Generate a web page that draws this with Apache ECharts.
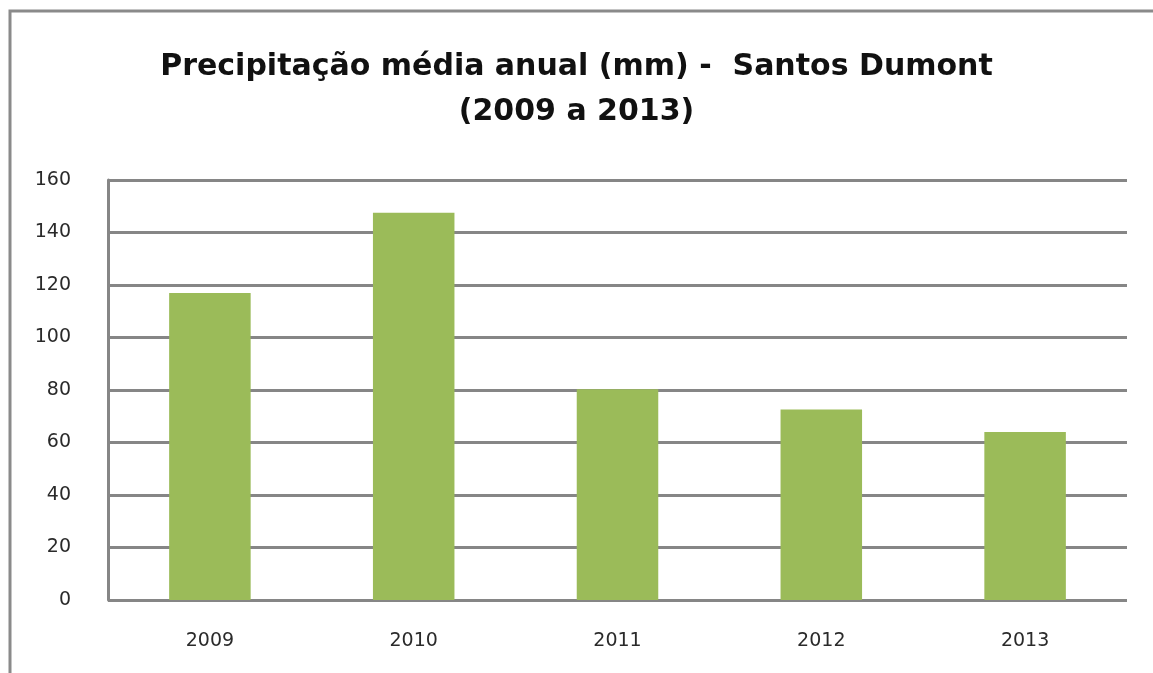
<!DOCTYPE html>
<html>
<head>
<meta charset="utf-8">
<script src="https://cdn.jsdelivr.net/npm/echarts@6/dist/echarts.min.js"></script>
<style>
  html, body { margin: 0; padding: 0; background: #fff; }
  #chart { width: 1153px; height: 673px; }
</style>
</head>
<body>
<div id="chart"></div>
<script>
const years = ["2009", "2010", "2011", "2012", "2013"];
const rainfall = [117, 147.5, 80.3, 72.6, 64];
const titleLines = ["Precipitação média anual (mm) -  Santos Dumont", "(2009 a 2013)"];

const FONT = '"DejaVu Sans", sans-serif';
const LABEL_FONT = '"DejaVu Sans", sans-serif';

const chart = echarts.init(document.getElementById("chart"), null, { renderer: "canvas" });

chart.setOption({
  backgroundColor: "#fff",
  animation: false,
  title: {
    text: titleLines.join("\n"),
    left: "center",
    top: 40,
    textStyle: {
      fontFamily: FONT,
      fontWeight: "bold",
      fontSize: 30,
      lineHeight: 45,
      color: "#111",
    },
  },
  // chart frame, spills past right and bottom edges like the screenshot
  graphic: [
    {
      type: "rect",
      shape: { x: 10, y: 11, width: 1200, height: 700 },
      style: { fill: null, stroke: "#8a8a8a", lineWidth: 3 },
      silent: true,
    },
  ],
  grid: { left: 108, right: 26, top: 180, bottom: 73 },
  xAxis: {
    type: "category",
    data: years,
    axisLine: { show: false },
    axisTick: { show: false },
    axisLabel: {
      color: "#2a2a2a",
      fontFamily: LABEL_FONT,
      fontSize: 19,
      margin: 32,
    },
  },
  yAxis: {
    type: "value",
    min: 0,
    max: 160,
    interval: 20,
    axisLine: { show: true, lineStyle: { color: "#868686", width: 3 } },
    axisTick: { show: false },
    axisLabel: {
      color: "#2a2a2a",
      fontFamily: LABEL_FONT,
      fontSize: 19,
      margin: 37,
    },
    splitLine: { lineStyle: { color: "#868686", width: 3 } },
  },
  series: [
    {
      type: "bar",
      data: rainfall,
      barWidth: "40%",
      itemStyle: { color: "#9BBB59" },
    },
  ],
});
</script>
</body>
</html>
